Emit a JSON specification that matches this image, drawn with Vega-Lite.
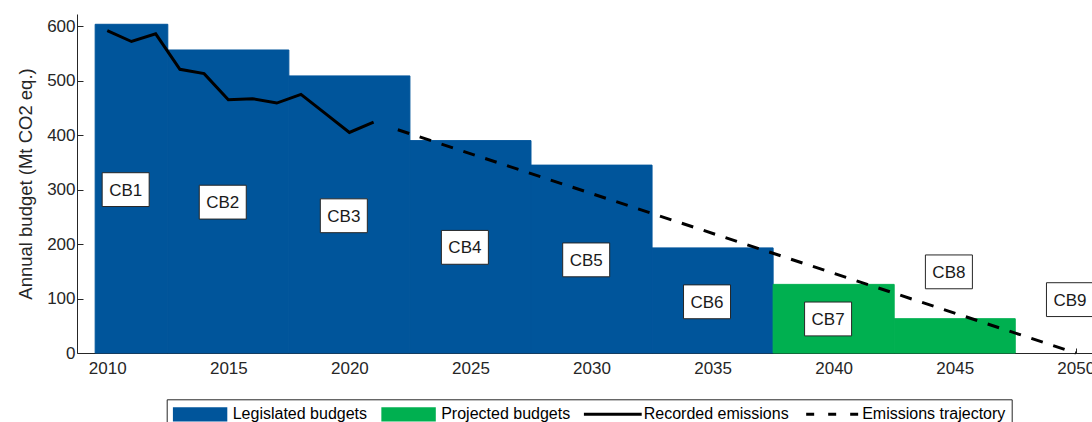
{
  "$schema": "https://vega.github.io/schema/vega-lite/v6.json",
  "width": 1015,
  "height": 339,
  "autosize": {"type": "none"},
  "padding": {"left": 77, "top": 14, "right": 0, "bottom": 69},
  "background": "white",
  "config": {
    "view": {"stroke": null},
    "font": "Liberation Sans",
    "axis": {
      "grid": false,
      "domainColor": "#262626",
      "tickColor": "#262626",
      "labelColor": "#262626",
      "titleColor": "#262626",
      "labelFont": "Liberation Sans",
      "titleFont": "Liberation Sans",
      "labelFontSize": 17,
      "titleFontSize": 18.5,
      "titleFontWeight": "normal",
      "domainWidth": 1,
      "tickWidth": 1,
      "labelFlush": false,
      "labelOverlap": false
    }
  },
  "datasets": {
    "budgets": [
      {"cb": "CB1", "start": 2009.5, "end": 2012.5, "budget": 603.6, "type": "Legislated budgets"},
      {"cb": "CB2", "start": 2012.5, "end": 2017.5, "budget": 556.4, "type": "Legislated budgets"},
      {"cb": "CB3", "start": 2017.5, "end": 2022.5, "budget": 508.8, "type": "Legislated budgets"},
      {"cb": "CB4", "start": 2022.5, "end": 2027.5, "budget": 390, "type": "Legislated budgets"},
      {"cb": "CB5", "start": 2027.5, "end": 2032.5, "budget": 345, "type": "Legislated budgets"},
      {"cb": "CB6", "start": 2032.5, "end": 2037.5, "budget": 193, "type": "Legislated budgets"},
      {"cb": "CB7", "start": 2037.5, "end": 2042.5, "budget": 126, "type": "Projected budgets"},
      {"cb": "CB8", "start": 2042.5, "end": 2047.5, "budget": 63, "type": "Projected budgets"}
    ],
    "recorded": [
      {"year": 2010, "value": 592},
      {"year": 2011, "value": 572},
      {"year": 2012, "value": 586},
      {"year": 2013, "value": 521},
      {"year": 2014, "value": 513},
      {"year": 2015, "value": 465},
      {"year": 2016, "value": 467},
      {"year": 2017, "value": 459},
      {"year": 2018, "value": 475},
      {"year": 2019, "value": 440},
      {"year": 2020, "value": 405},
      {"year": 2021, "value": 424}
    ],
    "trajectory": [
      {"year": 2022, "value": 410},
      {"year": 2050, "value": 0}
    ],
    "labels": [
      {"label": "CB1", "x": 2010.76, "y": 300},
      {"label": "CB2", "x": 2014.77, "y": 277},
      {"label": "CB3", "x": 2019.77, "y": 252},
      {"label": "CB4", "x": 2024.77, "y": 194},
      {"label": "CB5", "x": 2029.78, "y": 171},
      {"label": "CB6", "x": 2034.77, "y": 94},
      {"label": "CB7", "x": 2039.77, "y": 62.5},
      {"label": "CB8", "x": 2044.76, "y": 149},
      {"label": "CB9", "x": 2049.76, "y": 98}
    ]
  },
  "layer": [
    {
      "data": {"name": "budgets"},
      "mark": {"type": "rect", "strokeWidth": 1},
      "encoding": {
        "x": {
          "field": "start", "type": "quantitative",
          "scale": {"domain": [2008.75, 2050.67], "nice": false, "zero": false},
          "axis": {
            "title": null,
            "values": [2010, 2015, 2020, 2025, 2030, 2035, 2040, 2045, 2050],
            "format": "d",
            "tickSize": -5,
            "labelPadding": 12
          }
        },
        "x2": {"field": "end"},
        "y": {
          "field": "budget", "type": "quantitative",
          "scale": {"domain": [0, 622.5], "nice": false},
          "axis": {
            "title": "Annual budget (Mt CO2 eq.)",
            "values": [0, 100, 200, 300, 400, 500, 600],
            "tickSize": -6,
            "labelPadding": 8,
            "titleX": -52,
            "titleY": 169.5,
            "titleBaseline": "middle",
            "titleAlign": "center",
            "titleAngle": -90
          }
        },
        "y2": {"datum": 0},
        "stroke": {
          "field": "type", "type": "nominal",
          "scale": {
            "domain": ["Legislated budgets", "Projected budgets"],
            "range": ["#00559B", "#00B050"]
          },
          "legend": null
        },
        "color": {
          "field": "type", "type": "nominal",
          "scale": {
            "domain": ["Legislated budgets", "Projected budgets", "Recorded emissions", "Emissions trajectory"],
            "range": ["#00559B", "#00B050", "#000000", "#000000"]
          },
          "legend": {
            "title": null,
            "orient": "none",
            "legendX": 89.7,
            "legendY": 385.3,
            "direction": "horizontal",
            "strokeColor": "#262626",
            "fillColor": "white",
            "padding": 6,
            "symbolSize": 3025,
            "symbolType": "M-1.055,-0.26H0.931V0.26H-1.055Z",
            "symbolStrokeWidth": 3,
            "clipHeight": 18,
            "labelOffset": 2,
            "columnPadding": 13.5,
            "labelFont": "Liberation Sans",
            "labelFontSize": 16,
            "labelColor": "#000000",
            "labelLimit": 300,
            "encode": {
              "symbols": {
                "update": {
                  "size": {"value": 3025},
                  "shape": {"signal": "datum.value === 'Recorded emissions' ? 'M-1.055,0H1.055' : datum.value === 'Emissions trajectory' ? 'M-0.91,0H0.98' : 'M-1.055,-0.26H0.931V0.26H-1.055Z'"},
                  "stroke": {"signal": "(datum.value === 'Recorded emissions' || datum.value === 'Emissions trajectory') ? '#000000' : 'transparent'"},
                  "strokeWidth": {"value": 3},
                  "strokeDash": {"signal": "datum.value === 'Emissions trajectory' ? [8, 14] : [1, 0]"}
                }
              }
            }
          }
        }
      }
    },
    {
      "data": {"name": "recorded"},
      "mark": {"type": "line", "color": "#000000", "strokeWidth": 3, "strokeJoin": "miter"},
      "encoding": {
        "x": {"field": "year", "type": "quantitative"},
        "y": {"field": "value", "type": "quantitative"}
      }
    },
    {
      "data": {"name": "trajectory"},
      "mark": {"type": "line", "color": "#000000", "strokeWidth": 3, "strokeDash": [12, 11]},
      "encoding": {
        "x": {"field": "year", "type": "quantitative"},
        "y": {"field": "value", "type": "quantitative"}
      }
    },
    {
      "data": {"name": "labels"},
      "mark": {"type": "point", "shape": "M-1,-0.72H1V0.72H-1Z", "size": 2209, "filled": true, "fill": "white", "stroke": "#262626", "strokeWidth": 1, "opacity": 1},
      "encoding": {
        "x": {"field": "x", "type": "quantitative"},
        "y": {"field": "y", "type": "quantitative"}
      }
    },
    {
      "data": {"name": "labels"},
      "mark": {"type": "text", "font": "Liberation Sans", "fontSize": 17, "color": "#1a1a1a", "align": "center", "baseline": "middle", "dy": 1},
      "encoding": {
        "x": {"field": "x", "type": "quantitative"},
        "y": {"field": "y", "type": "quantitative"},
        "text": {"field": "label"}
      }
    }
  ]
}
